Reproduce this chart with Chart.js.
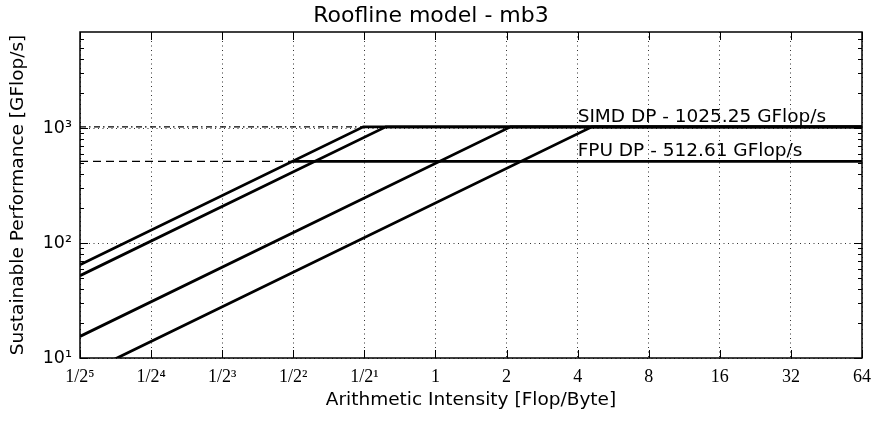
<!DOCTYPE html>
<html>
<head>
<meta charset="utf-8">
<script src="https://cdn.jsdelivr.net/npm/chart.js@4.4.1/dist/chart.umd.min.js"></script>
<style>
  html, body { margin: 0; padding: 0; background: #fff; }
</style>
</head>
<body>
<canvas id="roofline" width="872" height="425"></canvas>
<script>
// peaks (GFlop/s) and memory bandwidths (GB/s)
const peakNames = ['SIMD DP', 'FPU DP'];
const peakValues = [1025.25, 512.61];
const bandwidths = [2071, 1664, 493, 223];

const xTicks = [1/32, 1/16, 1/8, 1/4, 1/2, 1, 2, 4, 8, 16, 32, 64];
const xTickLabels = ['1/2⁵', '1/2⁴', '1/2³', '1/2²', '1/2¹', '1', '2', '4', '8', '16', '32', '64'];
const yTicks = [10, 100, 1000];
const yTickLabels = ['10¹', '10²', '10³'];
const xRange = [1/32, 64];
const yRange = [10, 6840];

const simd = peakValues[0];
const fpu = peakValues[1];
const xMin = xRange[0], xMax = xRange[1];

// one roof per bandwidth, all capped by the SIMD peak
const roofs = bandwidths.map(bw => ({
    data: [
        {x: xMin, y: bw * xMin},
        {x: simd / bw, y: simd},
        {x: xMax, y: simd}
    ],
    borderColor: '#000',
    borderWidth: 2.8
}));

const ridgeFpu = fpu / bandwidths[0];
const ridgeSimd = simd / bandwidths[0];

const datasets = [
    ...roofs,
    {data: [{x: ridgeFpu, y: fpu}, {x: xMax, y: fpu}], borderColor: '#000', borderWidth: 2.8},
    {data: [{x: xMin, y: fpu}, {x: ridgeFpu, y: fpu}], borderColor: '#000', borderWidth: 1.3, borderDash: [8, 5]},
    {data: [{x: xMin, y: simd}, {x: ridgeSimd, y: simd}], borderColor: '#000', borderWidth: 1.3, borderDash: [6, 3, 1.5, 3.5]}
].map(d => Object.assign({showLine: true, pointRadius: 0, tension: 0, clip: 0, fill: false}, d));

const yMinor = [];
for (const d of yTicks) {
    for (let m = 2; m < 10; m++) {
        if (m * d < yRange[1]) yMinor.push(m * d);
    }
}

const frame = {
    id: 'frame',
    afterDatasetsDraw(chart) {
        const {ctx, chartArea: a, scales: {x, y}} = chart;
        ctx.save();
        ctx.strokeStyle = '#000';
        ctx.lineWidth = 1;
        ctx.beginPath();
        xTicks.forEach(v => {
            const px = Math.round(x.getPixelForValue(v)) + 0.5;
            ctx.moveTo(px, a.bottom); ctx.lineTo(px, a.bottom - 8);
            ctx.moveTo(px, a.top); ctx.lineTo(px, a.top + 8);
        });
        yTicks.forEach(v => {
            const py = Math.round(y.getPixelForValue(v)) + 0.5;
            ctx.moveTo(a.left, py); ctx.lineTo(a.left + 8, py);
            ctx.moveTo(a.right, py); ctx.lineTo(a.right - 8, py);
        });
        yMinor.forEach(v => {
            const py = Math.round(y.getPixelForValue(v)) + 0.5;
            ctx.moveTo(a.left, py); ctx.lineTo(a.left + 4, py);
            ctx.moveTo(a.right, py); ctx.lineTo(a.right - 4, py);
        });
        ctx.stroke();
        ctx.lineWidth = 1.5;
        ctx.strokeRect(a.left, a.top, a.right - a.left, a.bottom - a.top);

        ctx.fillStyle = '#000';
        ctx.font = '18.5px "DejaVu Sans"';
        ctx.textAlign = 'left';
        ctx.textBaseline = 'alphabetic';
        peakNames.forEach((name, i) => {
            ctx.fillText(name + ' - ' + peakValues[i] + ' GFlop/s',
                x.getPixelForValue(4), y.getPixelForValue(peakValues[i]) - 5);
        });
        ctx.restore();
    }
};

const gridOpts = {color: '#333', lineWidth: 1, drawTicks: false};

new Chart(document.getElementById('roofline'), {
    type: 'scatter',
    data: {datasets},
    options: {
        responsive: false,
        animation: false,
        devicePixelRatio: 1,
        layout: {padding: {top: 0, right: 10, left: 0, bottom: 0}},
        plugins: {
            legend: {display: false},
            tooltip: {enabled: false},
            title: {
                display: true,
                text: 'Roofline model - mb3',
                color: '#000',
                font: {family: 'DejaVu Sans', size: 22, weight: 'normal'},
                padding: {top: 3, bottom: 2.6}
            }
        },
        scales: {
            x: {
                type: 'logarithmic',
                min: xRange[0],
                max: xRange[1],
                bounds: 'data',
                afterBuildTicks: s => { s.ticks = xTicks.map(v => ({value: v})); },
                afterFit: s => { s.height = 67; s.paddingLeft = 0; s.paddingRight = 0; },
                grid: gridOpts,
                border: {display: false, dash: [1, 3.5]},
                ticks: {
                    autoSkip: false, maxRotation: 0, minRotation: 0, padding: 8,
                    color: '#000',
                    font: {family: 'Liberation Serif', size: 18},
                    callback: (v, i) => xTickLabels[i]
                },
                title: {
                    display: true,
                    text: 'Arithmetic Intensity [Flop/Byte]',
                    color: '#000',
                    font: {family: 'DejaVu Sans', size: 18.5},
                    padding: {top: 0, bottom: 14}
                }
            },
            y: {
                type: 'logarithmic',
                min: yRange[0],
                max: yRange[1],
                bounds: 'data',
                afterBuildTicks: s => { s.ticks = yTicks.map(v => ({value: v})); },
                afterFit: s => { s.width = 80; },
                grid: gridOpts,
                border: {display: false, dash: [1, 3.5]},
                ticks: {
                    autoSkip: false, padding: 8,
                    color: '#000',
                    font: {family: 'DejaVu Sans', size: 17.5},
                    callback: (v, i) => yTickLabels[i]
                },
                title: {
                    display: true,
                    text: 'Sustainable Performance [GFlop/s]',
                    color: '#000',
                    font: {family: 'DejaVu Sans', size: 18.5},
                    padding: {top: 7, bottom: 0}
                }
            }
        }
    },
    plugins: [frame]
});
</script>
</body>
</html>
